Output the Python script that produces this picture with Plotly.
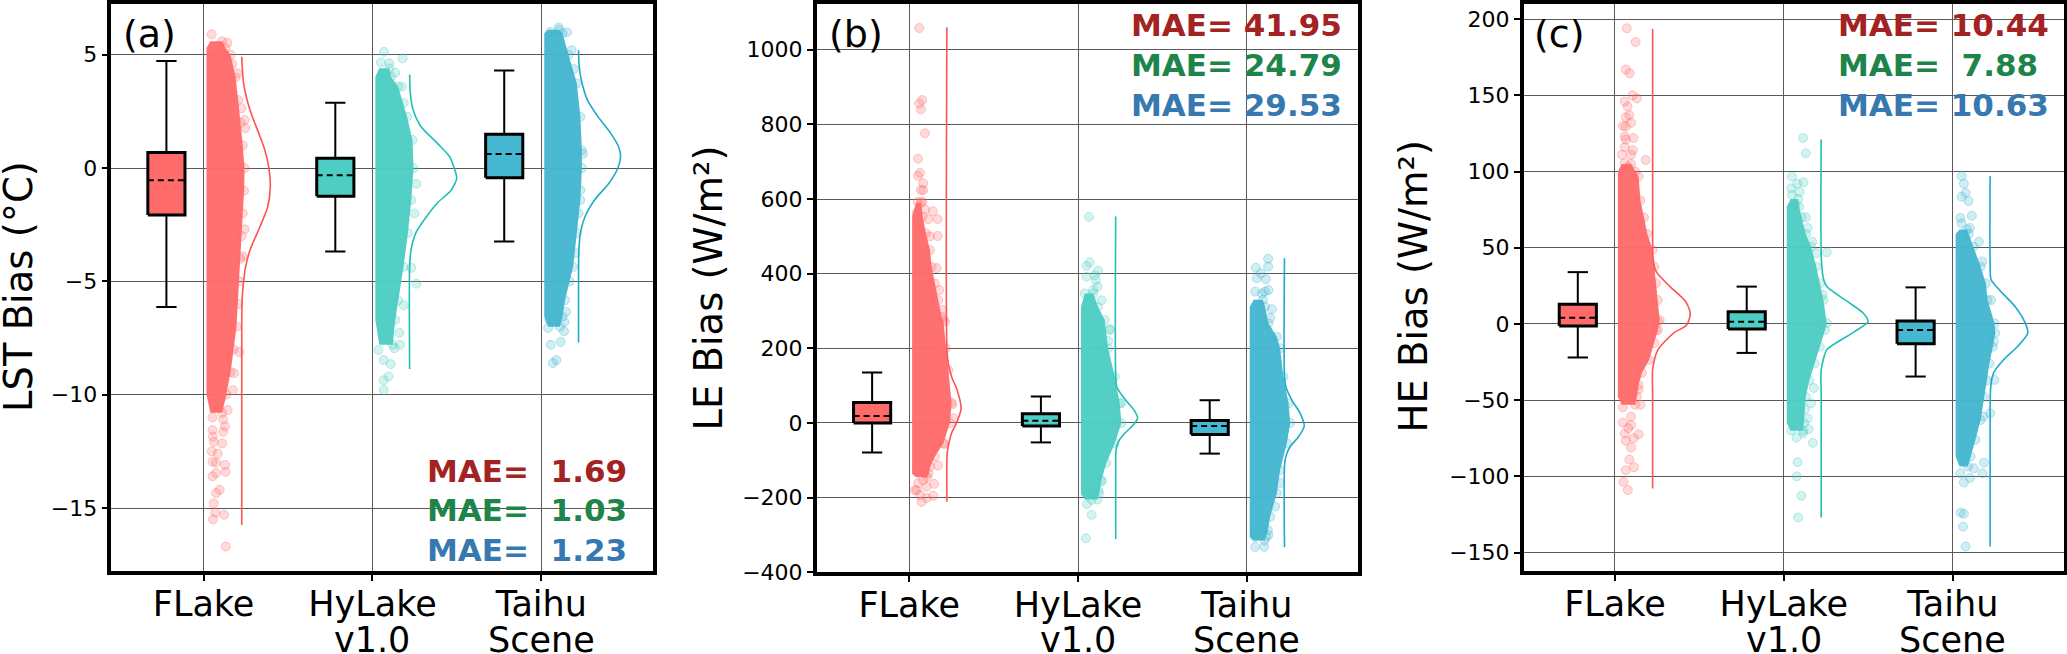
import plotly.graph_objects as go

W, H = 2067, 654
MODELS = ["FLake", "HyLake", "Taihu"]
MODELS_LINE2 = ["", "v1.0", "Scene"]
COL = ["#FF6B6B", "#4ECDC4", "#45B7D1"]
KDE_COL = ["#FF5252", "#1FBFB4", "#1FA9CB"]
MAE_COL = ["#A32222", "#1E8449", "#3778B0"]
YTITLES = ["LST Bias (°C)", "LE Bias (W/m²)", "HE Bias (W/m²)"]
LETTERS = ["(a)", "(b)", "(c)"]

# MAE labels as printed
MAE_A = ["MAE=\u00a0\u00a01.69", "MAE=\u00a0\u00a01.03", "MAE=\u00a0\u00a01.23"]
MAE_B = ["MAE=\u00a041.95", "MAE=\u00a024.79", "MAE=\u00a029.53"]
MAE_C = ["MAE=\u00a010.44", "MAE=\u00a0\u00a07.88", "MAE=\u00a010.63"]

# Box statistics, one value per model
A_WLO = [-6.13, -3.68, -3.24]; A_Q1 = [-2.07, -1.24, -0.43]; A_MED = [-0.54, -0.32, 0.62]; A_Q3 = [0.69, 0.43, 1.49]; A_WHI = [4.72, 2.88, 4.31]
B_WLO = [-79, -52, -82]; B_Q1 = [0, -8, -31]; B_MED = [19, 6, -8]; B_Q3 = [55, 25, 7]; B_WHI = [135, 71, 61]
C_WLO = [-22, -19, -34.5]; C_Q1 = [-1.3, -3.3, -13]; C_MED = [4, 1.5, -4]; C_Q3 = [13, 8, 2]; C_WHI = [34, 24.5, 24]

# Dense cloud envelope: bias level and extent to the right of the category position
A1_BY = [5.6, 5.3, 5, 4, 3, 2, 1, 0, -1, -2, -3, -4, -5, -6, -7, -8, -9, -10, -10.8]
A1_BW = [.11, .13, .16, .19, .205, .22, .232, .243, .24, .232, .225, .218, .211, .205, .195, .178, .16, .135, .11]
A2_BY = [4.4, 4.03, 3.6, 2.26, 1.24, 0, -1.41, -2.87, -4.36, -5.83, -6.7, -7.8]
A2_BW = [.1, .11, .152, .205, .237, .243, .23, .21, .184, .152, .135, .12]
A3_BY = [6.1, 5.95, 5, 3.74, 2.26, .79, 0, -1.41, -2.87, -4.36, -5, -5.83, -6.56, -7]
A3_BW = [.105, .125, .161, .21, .231, .24, .24, .231, .21, .188, .167, .14, .125, .11]
B1_BY = [590, 553, 508, 463, 418, 374, 329, 284, 276, 200, 142, 54, 0, -54, -90, -117, -135, -145]
B1_BW = [.07, .08, .099, .123, .133, .152, .172, .192, .202, .218, .231, .251, .241, .202, .152, .125, .115, .105]
B2_BY = [347, 311, 276, 200, 124, 53, 0, -54, -107, -153, -188, -205]
B2_BW = [.09, .119, .158, .178, .218, .247, .257, .218, .168, .139, .125, .115]
B3_BY = [330, 311, 267, 231, 200, 124, 53, 0, -54, -126, -188, -251, -287, -305, -315]
B3_BW = [.095, .108, .128, .178, .197, .217, .247, .257, .237, .197, .178, .138, .125, .115, .105]
C1_BY = [105, 100, 96.7, 81, 70, 59, 48.6, 37.6, 26.6, 15.7, 2.6, -4, -12.6, -23.6, -32, -40, -47.7, -53]
C1_BW = [.095, .12, .14, .151, .172, .192, .223, .233, .243, .254, .265, .254, .233, .202, .16, .14, .13, .12]
C2_BY = [82, 77, 70, 59, 50.7, 37.6, 26.6, 15.7, .6, -4, -15, -26, -37, -47.7, -56, -65, -70]
C2_BW = [.085, .09, .105, .13, .161, .192, .213, .234, .254, .244, .213, .182, .151, .13, .125, .12, .115]
C3_BY = [62, 59, 50.7, 37.6, 26.6, 15.7, .4, -6, -15, -26, -37, -47.7, -63, -76, -87, -93.6]
C3_BW = [.085, .095, .124, .165, .196, .206, .247, .252, .237, .217, .202, .185, .165, .134, .105, .09]

# Individually visible points outside the dense envelope
A1_PX = [.048, .141, .169, .2, .224, .243, .247, .243, .232, .211, .18, .173, .142, .116, .053, .127, .053, .116, .055, .06, .11, .049, .084, .053, .074, .127, .131, .053, .074, .095, .074, .06, .07, .122, .056, .131]
A1_PY = [5.9, 5.53, 4.59, 4.18, 2.64, 2.12, 1.76, -2.7, -3.9, -8.12, -9.05, -9.8, -10.68, -11.1, -11, -11.4, -11.56, -11.64, -11.85, -12.08, -12.15, -12.5, -12.6, -12.96, -13, -13.1, -13.4, -13.6, -13.46, -14.2, -14.34, -14.8, -15.2, -15.3, -15.5, -16.7]
A2_PX = [.068, .178, .05, .1, .06, .135, .174, .185, .259, .249, .23, .26, .185, .159, .163, .13, .035, .108, .066, .094, .066, .066]
A2_PY = [5.13, 4.84, 4.66, 4.62, 4.18, 4.2, 3.59, 2.87, -.7, -2, -4.4, -5.1, -6.05, -7.27, -7.8, -7.95, -8.03, -8.65, -8.47, -9.2, -9.36, -9.8]
A3_PX = [.102, .051, .152, .178, .192, .246, .231, .22, .199, .146, .136, .047, .055, .114, .089, .068, .134, .04]
A3_PY = [6.2, 6, 5.99, 5.2, 4.37, .62, -.97, -2, -3.75, -6.35, -6.8, -6.7, -7.8, -7.67, -8.47, -8.6, -7.2, -7.06]
B1_PX = [.059, .077, .059, .069, .093, .052, .063, .052, .083, .069, .083, .05, .077, .044, .093, .14, .168, .113, .168, .123, .162, .178, .198, .212, .17, .148, .142, .044, .044, .073, .103, .083, .034, .053, .103, .093, .063, .255, .261, .207]
B1_PY = [1058, 865, 856, 840, 776, 708, 670, 662, 642, 624, 624, 592, 593, 562, 572, 567, 546, 546, 501, 500, 415, 356, 303, 271, -114, -163, -195, -130, -180, -211, -201, -153, -180, -161, -171, -135, -193, 50, 13, -56]
B2_PX = [.065, .05, .069, .119, .05, .105, .099, .115, .04, .089, .139, .188, .188, .178, .257, .139, .046, .079, .053, .081, .046, .119]
B2_PY = [552, 421, 430, 408, 392, 383, 396, 365, 347, 356, 329, 252, 249, 220, 53, -157, -190, -206, -217, -246, -309, -180]
B3_PX = [.126, .053, .126, .083, .113, .059, .128, .049, .089, .108, .148, .138, .049, .049, .103, .128, .168, .197]
B3_PY = [440, 416, 419, 401, 385, 388, 356, 352, 347, 352, 305, 281, -305, -332, -332, -300, -224, -161]
C1_PX = [.07, .122, .064, .087, .105, .13, .058, .075, .085, .064, .047, .095, .064, .058, .11, .064, .058, .105, .041, .095, .182, .058, .079, .151, .047, .095, .047, .095, .079, .14, .058, .11, .064, .095, .085, .113, .064, .05, .076, .14, .243, .254]
C1_PY = [194, 185, 167, 164.5, 150, 148, 146, 142.6, 137, 135.6, 130, 132, 129.5, 123, 122, 121, 116, 114, 111, 111, 107.6, 105.6, 103, -53, -54.7, -60.8, -64.8, -66.3, -68.4, -72.4, -72, -75, -76.6, -81, -89, -94, -96, -103.6, -109, -43, -3.9, 1.5]
C2_PX = [.114, .13, .048, .116, .079, .044, .093, .048, .068, .13, .141, .168, .254, .192, .23, .177, .161, .141, .147, .044, .075, .114, .171, .081, .076, .104, .085]
C2_PY = [122, 112, 96.7, 93, 92, 89, 86.6, 84.6, 78, 70, 63, 54, 47, 46.5, 19, -42, -52, -62, -69, -70, -74.6, -71.7, -78, -90.7, -100, -112.7, -127]
C3_PX = [.053, .066, .076, .052, .093, .113, .045, .052, .102, .155, .175, .227, .243, .247, .221, .182, .185, .175, .124, .045, .102, .066, .047, .066, .061, .076]
C3_PY = [97, 92, 86, 83.5, 80.7, 71, 69.5, 66, 63, 54, 41, 15.7, -11.6, -36.7, -58.6, -60.8, -91, -98, -94.7, -98, -101, -104, -123.8, -124.5, -133, -146]

# Density curves: bias level and curve position to the right of the category position
A1_KY = [4.91, 3.74, 2.56, 1.53, .79, 0, -.82, -1.71, -2.59, -3.62, -4.36, -5.01, -5.83, -7, -15.75]
A1_KX = [.226, .237, .275, .327, .363, .387, .395, .38, .334, .275, .249, .237, .228, .226, .226]
A2_KY = [4.13, 3.3, 2.56, 1.82, 1.1, .5, 0, -.45, -.97, -1.55, -2.15, -2.87, -3.62, -4.36, -8.87]
A2_KX = [.22, .224, .241, .288, .383, .457, .484, .499, .467, .383, .319, .256, .228, .22, .22]
A3_KY = [5.2, 4.47, 3.74, 3, 2.26, 1.54, .94, .5, 0, -.67, -1.41, -2.15, -2.87, -3.62, -5, -7.7]
A3_KX = [.22, .224, .241, .273, .336, .41, .457, .469, .453, .4, .315, .258, .231, .222, .22, .22]
B1_KY = [1060, 200, 160, 124, 88, 53, 35, 0, -27, -54, -80, -100, -211]
B1_KX = [.223, .223, .231, .251, .284, .304, .306, .28, .251, .235, .225, .223, .223]
B2_KY = [553, 124, 97, 75, 53, 30, 13, -5, -27, -50, -72, -95, -311]
B2_KX = [.223, .223, .229, .259, .298, .338, .353, .328, .278, .239, .225, .223, .223]
B3_KY = [441, 124, 97, 62, 26, -8, -37, -63, -90, -117, -333]
B3_KX = [.223, .223, .231, .266, .316, .34, .306, .257, .231, .223, .223]
C1_KY = [193.6, 50, 42, 34.3, 24.5, 14.6, 7, -.7, -6, -17, -30, -45, -108]
C1_KX = [.223, .223, .226, .244, .326, .419, .446, .425, .347, .254, .223, .223, .223]
C2_KY = [121, 40, 29, 24.5, 14.6, 7, 1.5, -5, -12, -17, -30, -45, -127]
C2_KX = [.221, .223, .236, .254, .378, .471, .498, .419, .316, .254, .221, .221, .221]
C3_KY = [97, 40, 29, 22, 11, .4, -6, -15, -23.6, -32, -41, -55, -146]
C3_KX = [.221, .221, .227, .279, .372, .43, .444, .382, .3, .242, .225, .221, .221]

PANELS = [
    dict(wlo=A_WLO, q1=A_Q1, med=A_MED, q3=A_Q3, whi=A_WHI, mae=MAE_A,
         body=[(A1_BY, A1_BW), (A2_BY, A2_BW), (A3_BY, A3_BW)],
         pts=[(A1_PX, A1_PY), (A2_PX, A2_PY), (A3_PX, A3_PY)],
         kde=[(A1_KX, A1_KY), (A2_KX, A2_KY), (A3_KX, A3_KY)],
         yrange=[-17.78, 7.25], xrange=[.454, 3.66], ticks=[-15, -10, -5, 0, 5],
         box=(111.35, 652.85), bottom=571, mae_x=426, mae_y=[470.7, 510, 550], letter_x=122, title_x=18, title_y=287),
    dict(wlo=B_WLO, q1=B_Q1, med=B_MED, q3=B_Q3, whi=B_WHI, mae=MAE_B,
         body=[(B1_BY, B1_BW), (B2_BY, B2_BW), (B3_BY, B3_BW)],
         pts=[(B1_PX, B1_PY), (B2_PX, B2_PY), (B3_PX, B3_PY)],
         kde=[(B1_KX, B1_KY), (B2_KX, B2_KY), (B3_KX, B3_KY)],
         yrange=[-400.2, 1123], xrange=[.452, 3.66], ticks=[-400, -200, 0, 200, 400, 600, 800, 1000],
         box=(816.75, 1358.25), bottom=572.4, mae_x=1130, mae_y=[25, 65, 105], letter_x=828, title_x=708, title_y=288.5),
    dict(wlo=C_WLO, q1=C_Q1, med=C_MED, q3=C_Q3, whi=C_WHI, mae=MAE_C,
         body=[(C1_BY, C1_BW), (C2_BY, C2_BW), (C3_BY, C3_BW)],
         pts=[(C1_PX, C1_PY), (C2_PX, C2_PY), (C3_PX, C3_PY)],
         kde=[(C1_KX, C1_KY), (C2_KX, C2_KY), (C3_KX, C3_KY)],
         yrange=[-162.1, 210.1], xrange=[.46, 3.66], ticks=[-150, -100, -50, 0, 50, 100, 150, 200],
         box=(1523.75, 2064.25), bottom=571, mae_x=1836.5, mae_y=[25, 65, 105], letter_x=1533, title_x=1413, title_y=286.5),
]

TOP = 3.75
BOX_OFF, BOX_HALF, CAP_HALF, LEFT_EDGE, LEFT_TIP = -0.22, 0.11, 0.06, 0.017, 0.04
FONT = "DejaVu Sans"


def rgba(hex_col, a):
    return f"rgba({int(hex_col[1:3], 16)},{int(hex_col[3:5], 16)},{int(hex_col[5:7], 16)},{a})"


fig = go.Figure()
annotations = []
for p, panel in enumerate(PANELS):
    xa, ya = f"x{p + 1}" if p else "x", f"y{p + 1}" if p else "y"
    L, R = panel["box"]
    for m in range(3):
        pos, col = m + 1, COL[m]
        by, bw = panel["body"][m]
        # cloud body; the left side curves in slightly at both tips
        right = [pos + w for w in bw]
        left = [pos + LEFT_TIP] + [pos + LEFT_EDGE] * (len(by) - 2) + [pos + LEFT_TIP]
        fig.add_trace(go.Scatter(
            x=right + left, y=by + by[::-1],
            fill="toself", fillcolor=rgba(col, 0.97), mode="lines", line=dict(width=0),
            hoverinfo="skip", showlegend=False, xaxis=xa, yaxis=ya))
        # soft rim and isolated points
        px, py = panel["pts"][m]
        fig.add_trace(go.Scatter(
            x=[pos + w for w in px + bw], y=py + by, mode="markers",
            marker=dict(size=9, color=rgba(col, 0.25), line=dict(width=1, color=rgba(col, 0.35))),
            showlegend=False, xaxis=xa, yaxis=ya))
        # density curve
        kx, ky = panel["kde"][m]
        fig.add_trace(go.Scatter(
            x=[pos + v for v in kx], y=ky, mode="lines",
            line=dict(color=KDE_COL[m], width=1.6, shape="spline", smoothing=0.7),
            showlegend=False, xaxis=xa, yaxis=ya))
        # box plot
        c = pos + BOX_OFF
        q1, q3, med, lo, hi = panel["q1"][m], panel["q3"][m], panel["med"][m], panel["wlo"][m], panel["whi"][m]
        for xs, ys in (([c, c], [q3, hi]), ([c, c], [q1, lo]),
                       ([c - CAP_HALF, c + CAP_HALF], [hi, hi]), ([c - CAP_HALF, c + CAP_HALF], [lo, lo])):
            fig.add_trace(go.Scatter(x=xs, y=ys, mode="lines", line=dict(color="black", width=2),
                                     showlegend=False, xaxis=xa, yaxis=ya))
        fig.add_trace(go.Scatter(
            x=[c - BOX_HALF, c + BOX_HALF, c + BOX_HALF, c - BOX_HALF, c - BOX_HALF],
            y=[q1, q1, q3, q3, q1], mode="lines", fill="toself", fillcolor=col,
            line=dict(color="black", width=3), showlegend=False, xaxis=xa, yaxis=ya))
        fig.add_trace(go.Scatter(
            x=[c - BOX_HALF, c + BOX_HALF], y=[med, med], mode="lines",
            line=dict(color="black", width=2, dash="6px,4px"), showlegend=False, xaxis=xa, yaxis=ya))
        annotations.append(dict(
            text=f"<b>{panel['mae'][m]}</b>", xref="paper", yref="paper",
            x=panel["mae_x"] / W, y=1 - panel["mae_y"][m] / H, xanchor="left", yanchor="middle",
            showarrow=False, font=dict(family=FONT, size=31, color=MAE_COL[m]), borderpad=0))
        if MODELS_LINE2[m]:
            annotations.append(dict(
                text=MODELS_LINE2[m], xref=xa, x=pos, yref="paper", y=1 - 640 / H,
                xanchor="center", yanchor="middle", showarrow=False,
                font=dict(family=FONT, size=35, color="black"), borderpad=0))
    annotations.append(dict(
        text=LETTERS[p], xref="paper", yref="paper", x=panel["letter_x"] / W, y=1 - 34 / H,
        xanchor="left", yanchor="middle", showarrow=False,
        font=dict(family=FONT, size=38, color="black"), borderpad=0))
    annotations.append(dict(
        text=YTITLES[p], xref="paper", yref="paper", x=panel["title_x"] / W, y=1 - panel["title_y"] / H,
        xanchor="center", yanchor="middle", textangle=-90, showarrow=False,
        font=dict(family=FONT, size=38.5, color="black"), borderpad=0))
    axis_common = dict(showline=True, mirror=True, linecolor="black", linewidth=3.5, automargin=False,
                       showgrid=True, gridcolor="#5a5a5a", gridwidth=1.2, zeroline=False,
                       ticks="outside", tickcolor="black", ticklen=6, tickwidth=1.5)
    fig.update_layout({
        f"xaxis{p + 1 if p else ''}": dict(
            axis_common, domain=[L / W, R / W], range=panel["xrange"], tickmode="array",
            tickvals=[1, 2, 3], ticktext=MODELS, anchor=ya, tickangle=0, ticklabelstandoff=-7,
            tickfont=dict(family=FONT, size=35, color="black")),
        f"yaxis{p + 1 if p else ''}": dict(
            axis_common, domain=[1 - panel["bottom"] / H, 1 - TOP / H], range=panel["yrange"],
            tickmode="array", tickvals=panel["ticks"], anchor=xa,
            tickfont=dict(family=FONT, size=22, color="black")),
    })

fig.update_layout(width=W, height=H, margin=dict(l=0, r=0, t=0, b=0), autosize=False,
                  paper_bgcolor="white", plot_bgcolor="white", showlegend=False,
                  font=dict(family=FONT), annotations=annotations)
fig.write_html("out.html", config=dict(displayModeBar=False),
               post_script="document.body.style.margin='0';document.documentElement.style.overflow='hidden';")
